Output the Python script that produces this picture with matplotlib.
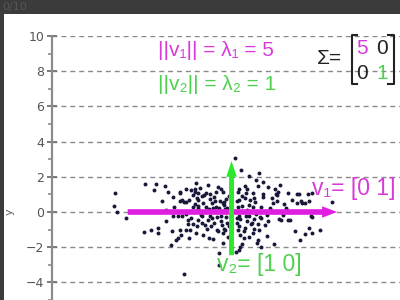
import matplotlib
matplotlib.use("Agg")
from matplotlib import pyplot as plt
from matplotlib.lines import Line2D
from matplotlib.patches import Rectangle

# scatter points (x, y)
points_x = [
    -6.6, -6.7, -6.5, -6.0, -4.9, -4.3, -4.4, -3.8, -3.6, -3.95, -3.35, -2.95,
    -2.6, -2.3, -2.1, -5.0, -4.6, -4.2, -4.2, -3.7, -3.4, -2.95, -3.05, -3.15,
    -2.85, -3.45, -2.7, -3.35, -3.05, -2.6, -2.8, -2.5, -2.6, -3.25, -2.9, -2.7,
    -2.2, -1.95, -3.75,
    -2.0, -2.1, -1.9, -1.9, -1.35, -1.45, -1.2, -0.78, -0.88, -0.5, -2.9, -2.8,
    -2.6, -2.4, -1.6, -1.45, -1.1, -0.9, -0.65, -0.4, -0.3, -1.25, -1.7, -2.2,
    -0.7, -1.9, -2.3, -2.2, -2.35, -2.4, -1.9, -1.7, -1.5, -1.35, -1.15, -1.0,
    -0.85, -0.6, -0.55, -0.4, -0.8, -1.6, -1.3, -1.05, -0.5, -0.2, -0.5, -0.7,
    -0.7, -1.65, -1.95, -2.0, -1.2, -0.3, -0.25, -1.8, -0.6,
    0.17, 0.55, 1.0, 1.55, 1.4, 1.8, 2.75, 2.65, 2.45, 3.2, 3.7, 0.35, 0.85,
    1.2, 1.3, 0.75, 0.45, 1.05, 0.75, 1.5, 2.05, 2.5, 2.35, 2.6, 1.7, 1.2, 0.6,
    3.0, 3.1, 0.3, 0.5, 0.9, 1.25, 1.5, 1.9, 2.7, 2.8, 3.2, 2.1, 0.4, 0.75, 1.3,
    0.5, 0.7, 1.2, 1.5, 2.4, 3.6, 4.15, 3.9, 4.4, 4.55, 5.05, 0.45, 0.6, 1.45,
    1.7, 2.0, 0.25, 0.5, 2.6, 3.45, 3.7, 3.85, 4.35, 4.6, 3.95, 4.0, 4.2, 4.4,
    5.7, 4.5, 4.6, 3.3, 1.65, 1.0, 2.2, 2.9, 0.35, 0.9, 1.4,
    -1.55, -1.0, -0.45, -0.15, -2.05, -1.3, -0.95, -0.35, -1.75, -1.1, -0.6,
    -0.25, -2.45, -1.4, -0.75, -0.35, -1.9, -1.05, -0.5, -0.15, 0.3, 0.6, 1.0,
    1.35, 1.8, 0.4, 0.8, 1.15, 1.6, 2.0, 0.3, 0.7, 1.1, 1.55, 0.45, 0.9, 1.8,
    2.3, 0.35, 1.0,
]
points_y = [
    1.06, 0.36, -0.02, -0.32, 1.57, 1.59, 1.27, 1.49, 1.14, 0.63, 0.87, 1.1,
    1.3, 1.25, 1.29, -1.14, -1.0, -0.93, -1.22, -0.5, -1.08, -1.0, -1.49, -1.6,
    -1.3, -1.9, -3.55, -0.2, -0.2, -0.1, -0.25, -0.45, -1.05, 0.27, 0.6, 0.55,
    0.95, 0.8, 0.1,
    1.63, 1.15, 1.06, 0.68, 1.54, 1.06, 1.0, 1.44, 1.15, 1.15, 1.15, 0.68,
    0.58, 0.68, 0.49, 0.3, 0.49, 0.3, 0.6, 0.4, 0.75, 0.75, 0.9, 0.3,
    0.2, 0.2, -0.35, -0.66, -1.0, -1.5, -0.45, -0.6, -0.75, -0.45, -0.8, -0.6,
    -0.3, -0.5, -0.75, -0.95, -1.0, -1.3, -1.45, -1.55, -1.2, -1.4, -1.75, -2.35,
    -3.0, -0.25, -0.8, -1.2, -0.2, -0.3, 0.25, 1.35, 1.3,
    3.05, 2.38, 2.05, 2.2, 1.8, 1.7, 1.54, 1.15, 1.29, 1.06, 1.0, 1.15, 1.06,
    1.06, 0.78, 0.77, 0.68, 0.68, 1.5, 1.48, 1.44, 1.0, 0.49, 0.6, 0.3, 0.3, 0.35,
    0.45, 0.2, -0.35, -0.4, -0.5, -0.4, -0.7, -0.75, -0.38, -0.47, -0.47, -0.5,
    -0.8, -0.9, -0.95,
    -1.3, -1.5, -1.2, -1.6, -1.8, -1.1, -1.26, -1.6, -0.9, -1.2, -1.05, -2.15,
    -1.8, -1.75, -2.0, -1.35, -2.3, -2.0, 0.95, 0.7, 0.5, 1.0, 1.0, 1.1, 0.6,
    0.5, 0.5, 0.6, 0.55, -0.2, -0.27, -0.47, -0.35, -0.2, 0.2, -0.15, 0.3, 0.1,
    -0.1,
    0.95, 0.85, 0.55, 0.9, 0.45, 0.15, 0.65, 0.15, -0.15, -0.35, -0.2, -0.6,
    -0.7, -0.95, -1.1, -1.0, 0.35, 0.2, 0.5, -0.8, 0.65, 0.9, 0.4, 0.55, 0.85,
    -0.2, -0.25, -0.65, -0.3, -0.15, -0.6, -1.1, -0.7, -1.0, 1.3, 1.3, 1.05,
    0.8, -1.05, -1.4,
]

# eigenvectors drawn as arrows: start and end
v1_start = (-5.9, 0.0)
v1_end = (6.0, 0.0)
v2_start = (0.0, -2.45)
v2_end = (0.0, 2.9)

y_ticks = [-4, -2, 0, 2, 4, 6, 8, 10]
y_minor = [-5, -3, -1, 1, 3, 5, 7, 9]

MAGENTA = "#d83ad8"
MAGENTA_ARROW = "#e01ee0"
GREEN = "#4fd04f"
GREEN_ARROW = "#2ee82e"

fig = plt.figure(figsize=(4, 3), dpi=100, facecolor="#3b3b3b")
fig.add_artist(Rectangle((4 / 400, 0), 1, 286 / 300, transform=fig.transFigure,
                         facecolor="white", edgecolor="none", zorder=0))
fig.text(0.005, 1 - 7 / 300, "0/10", color="#555555", fontsize=8, va="center", ha="left")

ax = fig.add_axes([0.13, 0.88 - 16 * 17.6 / 300, 20.2 * 17.6 / 400, 16 * 17.6 / 300])
ax.set_facecolor("white")
ax.set_xlim(-10.2, 10)
ax.set_ylim(-6, 10)

for s in ["top", "right", "bottom"]:
    ax.spines[s].set_visible(False)
ax.spines["left"].set_color("#8c8c8c")
ax.spines["left"].set_linewidth(1.6)
ax.set_xticks([])
ax.set_yticks(y_ticks)
ax.set_yticks(y_minor, minor=True)
ax.tick_params(axis="y", which="major", direction="inout", length=7, width=1.4,
               color="#7a7a7a", labelsize=9, labelcolor="#555555", pad=2)
ax.tick_params(axis="y", which="minor", direction="out", length=3, width=1.2,
               color="#8c8c8c")
ax.grid(axis="y", which="major", color="#8a8a8a", linewidth=1, dashes=(3.6, 2.8))
ax.set_axisbelow(True)

ax.scatter(points_x, points_y, s=8, color="#18183a", linewidths=0, zorder=3)

ax.arrow(v1_start[0], v1_start[1], v1_end[0] - v1_start[0], v1_end[1] - v1_start[1],
         width=0.32, head_width=0.65, head_length=0.85, length_includes_head=True,
         color=MAGENTA_ARROW, linewidth=0, zorder=4)
ax.arrow(v2_start[0], v2_start[1], v2_end[0] - v2_start[0], v2_end[1] - v2_start[1],
         width=0.28, head_width=0.6, head_length=0.9, length_includes_head=True,
         color=GREEN_ARROW, linewidth=0, zorder=5)

fonts = ["Liberation Sans", "DejaVu Sans"]
ax.text(-4.2, 9.2, "||v₁|| = λ₁ = 5", color=MAGENTA, fontsize=15, family=fonts,
        va="center", ha="left")
ax.text(-4.2, 7.27, "||v₂|| = λ₂ = 1", color=GREEN, fontsize=15, family=fonts,
        va="center", ha="left")
ax.text(4.6, 1.36, "v₁= [0 1]", color=MAGENTA, fontsize=16.5, family=fonts,
        va="center", ha="left")
ax.text(-0.8, -3.0, "v₂= [1 0]", color=GREEN, fontsize=16.5, family=fonts,
        va="center", ha="left")


# covariance matrix and y label, placed in pixels
def px(x, y):
    return x / 400, 1 - y / 300


fig.text(*px(10, 212), "y", rotation=90, fontsize=8, color="#666666",
         va="center", ha="center")
fig.text(*px(317, 58), "Σ=", fontsize=15, family=fonts, color="#222222",
         va="center", ha="left")
fig.text(*px(362, 48), "5", fontsize=15, family=fonts, color=MAGENTA, va="center", ha="center")
fig.text(*px(382, 48), "0", fontsize=15, family=fonts, color="#222222", va="center", ha="center")
fig.text(*px(362, 73), "0", fontsize=15, family=fonts, color="#222222", va="center", ha="center")
fig.text(*px(382, 73), "1", fontsize=15, family=fonts, color=GREEN, va="center", ha="center")
for xs in ([357, 352, 352, 357], [388, 394, 394, 388]):
    bx = [px(x, 0)[0] for x in xs]
    by = [px(0, y)[1] for y in [35, 35, 84, 84]]
    fig.add_artist(Line2D(bx, by, transform=fig.transFigure, color="#222222", linewidth=1.5))

fig.savefig("out.png", dpi=100, facecolor=fig.get_facecolor())
